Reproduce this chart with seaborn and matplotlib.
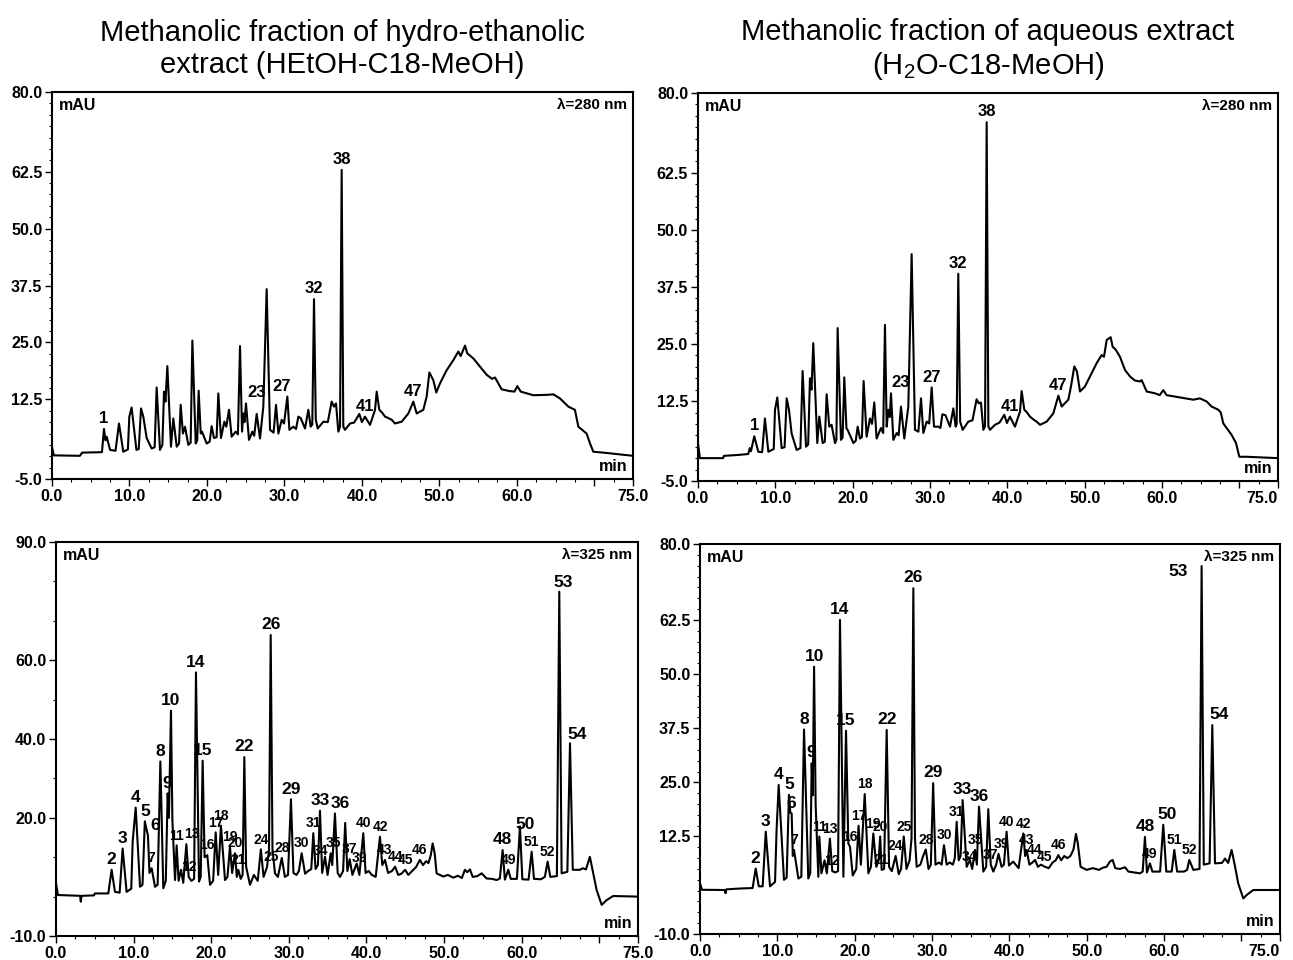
import numpy as np
import matplotlib
matplotlib.use("Agg")
import matplotlib.pyplot as plt
from matplotlib.ticker import MultipleLocator
import seaborn as sns

# HPLC-DAD chromatograms of the methanolic C18 fractions, 280 nm (top) and 325 nm (bottom).
# Trace vertices (retention time in min, absorbance in mAU).

# --- top left: HEtOH-C18-MeOH, 280 nm ---
tl_time = [0.0, 0.25, 3.6, 3.9, 6.45, 6.71, 6.9, 7.06, 7.5, 8.2,
           8.65, 9.2, 9.8, 9.98, 10.28, 10.9, 11.2, 11.49, 11.79, 12.22,
           12.87, 13.25, 13.51, 13.94, 14.25, 14.46, 14.65, 14.89, 15.36, 15.66,
           16.1, 16.4, 16.61, 16.9, 17.17, 17.6, 17.9, 18.12, 18.55, 18.75,
           18.93, 19.2, 19.36, 19.97, 20.35, 20.61, 20.91, 21.25, 21.47, 21.81,
           22.25, 22.5, 22.85, 23.19, 23.71, 24.0, 24.27, 24.53, 24.7, 24.85,
           25.04, 25.43, 25.86, 26.1, 26.42, 26.85, 27.28, 27.71, 28.14, 28.6,
           28.92, 29.22, 29.65, 29.95, 30.38, 30.64, 31.15, 31.5, 31.8, 32.1,
           32.66, 33.09, 33.39, 33.6, 33.82, 34.05, 34.3, 35.03, 35.6, 36.1,
           36.4, 36.66, 36.96, 37.18, 37.39, 37.6, 37.82, 38.47, 39.0, 39.67,
           40.0, 40.4, 41.05, 41.7, 41.91, 42.25, 42.6, 43.0, 43.4, 43.85,
           44.28, 45.14, 46.0, 46.64, 47.07, 47.93, 48.36, 48.71, 49.22, 49.6,
           50.08, 50.94, 51.8, 52.45, 52.75, 53.31, 53.6, 54.38, 55.24, 56.1,
           56.8, 57.18, 58.04, 59.12, 59.7, 60.06, 60.5, 62.13, 64.0, 64.71,
           65.57, 66.65, 67.5, 67.94, 69.0, 69.45, 69.87, 71.17, 75.0]
tl_mau = [2.0, 0.2, 0.1, 0.8, 0.9, 6.0, 3.5, 4.3, 1.4, 1.2,
          7.2, 1.0, 1.5, 8.7, 10.7, 1.4, 1.6, 10.5, 8.7, 4.0,
          1.7, 2.0, 15.1, 1.4, 2.5, 14.2, 12.0, 19.8, 2.1, 8.3,
          2.1, 2.8, 11.3, 5.0, 6.5, 2.5, 3.0, 25.4, 2.8, 3.5,
          14.4, 5.0, 5.4, 2.8, 3.2, 6.6, 4.0, 4.2, 13.8, 4.0,
          7.6, 6.5, 10.2, 4.3, 5.4, 4.8, 24.2, 5.4, 9.4, 7.5,
          11.6, 3.6, 5.4, 4.5, 9.3, 3.9, 10.9, 36.7, 5.8, 5.2,
          11.3, 5.0, 8.0, 7.2, 13.1, 5.8, 6.5, 6.0, 8.7, 8.4,
          6.1, 10.2, 6.5, 7.0, 34.5, 8.0, 6.1, 7.6, 7.5, 12.0,
          10.9, 11.6, 5.4, 6.5, 62.9, 6.5, 5.8, 7.2, 7.4, 9.3,
          7.5, 8.7, 6.9, 10.2, 14.2, 10.2, 9.6, 8.7, 8.4, 8.0,
          7.2, 7.6, 9.4, 12.0, 9.4, 10.2, 13.1, 18.4, 16.7, 14.0,
          16.0, 18.9, 21.1, 23.0, 22.0, 24.3, 22.6, 21.5, 19.7, 17.9,
          17.0, 17.3, 14.7, 14.3, 14.2, 15.4, 14.2, 13.4, 13.5, 13.6,
          12.7, 10.9, 10.2, 6.5, 5.0, 2.8, 1.0, 0.8, 0.1]
tl_peak_ids = ["1", "23", "27", "32", "38", "41", "47"]
tl_peak_time = [6.71, 26.42, 30.38, 33.82, 37.39, 40.4, 46.64]

# --- top right: H2O-C18-MeOH, 280 nm ---
tr_time = [0.0, 0.25, 3.25, 3.35, 5.2, 6.5, 6.7, 6.85, 7.28, 7.8,
           8.3, 8.66, 9.1, 9.8, 9.96, 10.26, 10.82, 11.2, 11.47, 11.77,
           12.11, 12.76, 13.25, 13.53, 13.97, 14.25, 14.48, 14.68, 14.91, 15.43,
           15.69, 16.12, 16.4, 16.64, 16.98, 17.28, 17.72, 17.9, 18.06, 18.49,
           18.7, 18.92, 19.2, 19.35, 20.1, 20.4, 20.65, 20.95, 21.2, 21.42,
           21.81, 22.24, 22.5, 22.8, 23.1, 23.66, 23.95, 24.18, 24.4, 24.61,
           24.8, 24.96, 25.26, 25.69, 25.95, 26.25, 26.68, 27.2, 27.63, 28.06,
           28.5, 28.84, 29.14, 29.57, 29.9, 30.22, 30.52, 31.08, 31.35, 31.6,
           32.0, 32.59, 33.02, 33.32, 33.45, 33.66, 33.9, 34.23, 34.96, 35.5,
           36.03, 36.3, 36.59, 36.9, 37.12, 37.33, 37.55, 37.76, 38.4, 39.0,
           39.61, 39.95, 40.34, 40.99, 41.64, 41.85, 42.2, 42.55, 42.93, 43.35,
           43.79, 44.23, 45.09, 45.95, 46.6, 47.03, 47.89, 48.23, 48.66, 49.0,
           49.4, 50.04, 50.9, 51.55, 52.2, 52.5, 52.85, 53.36, 53.62, 54.0,
           54.57, 55.22, 55.86, 56.5, 57.16, 57.37, 58.02, 59.1, 59.7, 60.17,
           60.6, 62.33, 64.05, 64.9, 65.78, 66.42, 67.28, 67.6, 67.93, 69.0,
           69.57, 70.0, 70.95, 75.0]
tr_mau = [3.3, 0.0, 0.0, 0.5, 0.7, 0.9, 2.2, 1.5, 4.8, 1.4,
          1.3, 8.7, 1.4, 2.0, 10.6, 13.3, 2.2, 2.4, 13.1, 10.6,
          5.4, 1.8, 2.2, 19.1, 2.5, 3.0, 17.5, 15.0, 25.2, 3.3,
          9.1, 3.3, 3.6, 14.0, 6.9, 7.3, 3.3, 4.0, 28.5, 4.0,
          4.5, 17.7, 6.5, 6.2, 3.3, 3.8, 6.9, 4.3, 4.6, 16.9,
          4.7, 8.7, 7.5, 12.2, 4.3, 6.6, 5.5, 29.2, 6.9, 10.6,
          9.0, 14.2, 4.0, 5.5, 5.0, 11.3, 4.3, 11.3, 44.7, 6.2,
          5.8, 13.1, 5.5, 8.0, 7.6, 15.5, 6.9, 6.9, 6.6, 9.6,
          9.4, 6.9, 10.9, 6.9, 7.5, 40.4, 8.0, 6.2, 8.0, 8.3,
          12.9, 12.0, 12.2, 6.2, 7.0, 73.6, 7.0, 6.2, 7.3, 7.8,
          9.5, 7.7, 9.1, 6.9, 10.2, 14.7, 10.6, 10.0, 9.1, 8.5,
          8.0, 7.3, 8.0, 9.8, 13.7, 11.3, 12.8, 15.7, 20.1, 19.0,
          14.6, 15.7, 18.6, 20.8, 22.6, 22.2, 25.9, 26.5, 24.4, 23.8,
          22.2, 19.3, 17.9, 17.0, 16.8, 17.1, 14.6, 14.2, 13.8, 14.9,
          13.8, 13.3, 12.8, 13.1, 12.4, 11.3, 10.6, 10.0, 7.6, 5.1,
          3.3, 0.3, 0.3, 0.0]
tr_peak_ids = ["1", "23", "27", "32", "38", "41", "47"]
tr_peak_time = [7.28, 26.25, 30.22, 33.66, 37.33, 40.34, 46.6]

# --- bottom left: HEtOH-C18-MeOH, 325 nm ---
bl_time = [0.0, 0.25, 3.1, 3.2, 3.3, 4.9, 5.0, 6.74, 7.17, 7.6,
           8.2, 8.59, 9.1, 9.7, 9.88, 10.27, 10.83, 11.15, 11.45, 11.62,
           11.85, 12.05, 12.33, 12.76, 13.1, 13.45, 13.83, 14.15, 14.39, 14.55,
           14.82, 15.0, 15.34, 15.55, 15.8, 16.11, 16.4, 16.8, 17.1, 17.45,
           17.8, 18.04, 18.43, 18.65, 18.9, 19.15, 19.5, 19.85, 20.25, 20.58,
           20.9, 21.26, 21.78, 22.1, 22.42, 22.7, 23.07, 23.3, 23.5, 23.8,
           24.05, 24.27, 24.5, 25.0, 25.5, 26.0, 26.4, 26.75, 27.2, 27.45,
           27.67, 27.9, 28.22, 28.6, 29.1, 29.5, 29.9, 30.28, 30.6, 31.0,
           31.3, 31.66, 32.1, 32.5, 32.9, 33.16, 33.45, 33.75, 34.02, 34.3,
           34.67, 35.0, 35.4, 35.6, 35.95, 36.3, 36.6, 37.0, 37.27, 37.55,
           37.85, 38.2, 38.75, 39.1, 39.6, 39.9, 40.3, 40.7, 41.2, 41.75,
           42.05, 42.4, 42.8, 43.3, 43.7, 44.1, 44.5, 45.0, 45.4, 45.9,
           46.4, 46.9, 47.3, 47.7, 48.0, 48.3, 48.54, 48.8, 49.05, 49.9,
           50.5, 51.2, 51.8, 52.3, 52.7, 53.0, 53.35, 53.7, 54.3, 54.85,
           55.5, 56.2, 56.8, 57.2, 57.56, 57.85, 58.29, 58.6, 59.4, 59.79,
           60.1, 60.9, 61.3, 61.6, 62.5, 63.0, 63.36, 63.7, 64.55, 64.86,
           65.16, 65.9, 66.24, 66.6, 67.5, 67.9, 68.3, 68.8, 69.24, 69.67,
           70.32, 70.96, 71.8, 75.0]
bl_mau = [3.4, 0.4, 0.2, -1.3, 0.2, 0.3, 0.8, 0.8, 6.8, 1.2,
          1.0, 12.2, 1.2, 2.0, 13.9, 22.6, 2.5, 3.0, 19.1, 17.5,
          15.5, 6.0, 7.2, 2.5, 3.0, 34.3, 2.1, 4.0, 26.2, 20.0,
          47.2, 19.4, 4.2, 13.0, 4.0, 6.8, 3.5, 13.3, 5.0, 4.0,
          4.5, 56.9, 3.8, 5.0, 34.5, 10.0, 10.5, 3.0, 4.0, 16.3,
          5.5, 18.0, 4.2, 5.0, 12.7, 6.0, 11.0, 5.0, 6.8, 4.5,
          5.5, 35.4, 7.6, 3.0, 5.5, 4.0, 12.0, 5.0, 7.5, 12.0,
          66.4, 12.0, 5.9, 5.0, 9.8, 5.0, 5.5, 24.7, 6.0, 5.5,
          6.5, 11.0, 5.8, 6.5, 7.0, 16.1, 7.0, 8.0, 21.8, 6.0,
          10.1, 5.5, 11.0, 8.0, 21.1, 6.0, 5.0, 6.5, 18.7, 6.5,
          9.5, 5.5, 8.4, 5.5, 16.1, 6.0, 6.5, 5.5, 5.0, 15.2,
          8.0, 9.3, 6.0, 6.5, 7.6, 5.5, 5.8, 6.8, 5.5, 6.5,
          7.5, 9.3, 8.0, 9.0, 8.5, 10.5, 13.5, 11.0, 5.9, 5.1,
          5.5, 4.8, 5.3, 4.7, 6.8, 6.2, 6.9, 5.0, 5.2, 5.9,
          4.6, 4.5, 4.2, 4.6, 11.8, 4.3, 6.8, 4.5, 4.5, 17.8,
          4.4, 4.3, 11.4, 4.5, 4.4, 5.0, 8.9, 5.0, 5.2, 77.4,
          5.9, 6.3, 38.9, 6.8, 6.8, 7.2, 6.9, 10.1, 5.9, 1.7,
          -2.1, -0.9, 0.15, 0.0]
bl_peak_ids = ["2", "3", "4", "5", "6", "7", "8", "9", "10", "11", "12", "13",
               "14", "15", "16", "17", "18", "19", "20", "21", "22", "24", "25",
               "26", "28", "29", "30", "31", "33", "34", "35", "36", "37", "39",
               "40", "42", "43", "44", "45", "46", "48", "49", "50", "51", "52",
               "53", "54"]
bl_peak_time = [7.17, 8.59, 10.27, 11.45, 11.85, 12.33, 13.45, 14.39, 14.82, 15.55, 17.1, 16.8,
                18.04, 18.9, 19.5, 20.58, 21.26, 22.42, 23.07, 23.5, 24.27, 26.4, 27.2,
                27.67, 29.1, 30.28, 31.66, 33.16, 34.02, 34.67, 35.4, 35.95, 37.85, 38.75,
                39.6, 41.75, 42.4, 43.7, 45.0, 46.9, 57.56, 58.29, 59.79, 61.3, 63.36,
                64.86, 66.24]

# --- bottom right: H2O-C18-MeOH, 325 nm ---
br_time = [0.0, 0.25, 3.2, 3.3, 3.4, 5.2, 6.8, 7.2, 7.6, 8.1,
           8.5, 9.05, 9.7, 9.9, 10.17, 10.86, 11.2, 11.5, 11.68, 11.85,
           12.0, 12.15, 12.72, 13.1, 13.45, 14.0, 14.25, 14.44, 14.58, 14.75,
           14.95, 15.3, 15.43, 15.7, 16.1, 16.4, 16.8, 17.1, 17.5, 17.85,
           18.1, 18.54, 18.88, 19.18, 19.4, 19.75, 20.2, 20.5, 20.8, 21.3,
           21.77, 22.1, 22.41, 22.8, 23.1, 23.3, 23.49, 23.8, 24.14, 24.45,
           24.8, 25.3, 25.7, 26.0, 26.35, 26.7, 27.1, 27.35, 27.59, 27.8,
           28.02, 28.5, 28.85, 29.2, 29.55, 29.85, 30.15, 30.45, 30.9, 31.25,
           31.55, 31.9, 32.3, 32.7, 32.95, 33.19, 33.45, 33.7, 33.96, 34.48,
           34.9, 35.2, 35.56, 35.8, 36.08, 36.64, 37.0, 37.28, 37.6, 37.93,
           38.3, 38.6, 39.0, 39.3, 39.65, 39.95, 40.5, 41.2, 41.81, 42.05,
           42.24, 42.6, 43.0, 43.32, 43.7, 44.1, 44.6, 45.1, 45.6, 46.0,
           46.34, 46.7, 47.1, 47.5, 47.9, 48.3, 48.62, 48.85, 49.22, 50.0,
           50.8, 51.6, 52.1, 52.58, 53.0, 53.36, 53.7, 54.3, 54.96, 55.4,
           56.2, 56.9, 57.25, 57.54, 57.8, 58.19, 58.5, 59.5, 59.91, 60.3,
           61.0, 61.34, 61.7, 62.6, 63.0, 63.27, 63.8, 64.6, 64.87, 65.15,
           65.9, 66.25, 66.6, 67.5, 67.9, 68.3, 68.75, 69.2, 69.6, 70.26,
           70.7, 71.55, 75.0]
br_mau = [1.7, 0.2, 0.15, -0.6, 0.3, 0.5, 0.6, 5.1, 1.0, 1.0,
          13.6, 1.0, 2.0, 14.0, 24.4, 2.5, 3.0, 22.1, 18.0, 17.8,
          8.0, 9.4, 2.8, 3.2, 37.2, 2.8, 4.0, 29.4, 22.0, 51.7,
          20.0, 3.2, 12.5, 4.0, 7.0, 4.0, 12.0, 4.5, 4.2, 4.5,
          62.5, 3.2, 36.9, 10.9, 10.1, 3.5, 5.0, 15.0, 6.0, 22.3,
          4.0, 5.5, 13.2, 5.5, 7.0, 12.5, 4.8, 5.0, 37.1, 5.5,
          4.5, 8.0, 3.8, 5.0, 12.5, 5.0, 7.0, 12.0, 69.8, 12.0,
          5.5, 6.0, 8.0, 9.5, 5.0, 6.0, 24.8, 6.0, 6.5, 6.0,
          10.5, 6.0, 6.5, 6.0, 7.5, 15.9, 7.0, 8.0, 20.9, 5.5,
          7.1, 5.0, 9.4, 6.0, 19.4, 4.4, 5.5, 18.8, 6.0, 4.4,
          6.0, 8.5, 5.5, 6.0, 13.6, 5.8, 6.7, 5.2, 13.2, 8.0,
          9.4, 6.0, 6.5, 7.1, 5.5, 6.0, 5.5, 5.2, 6.5, 7.0,
          8.2, 7.0, 8.0, 7.5, 8.0, 9.5, 13.1, 11.0, 5.5, 4.8,
          5.2, 4.8, 5.3, 5.5, 6.7, 7.1, 5.2, 5.0, 5.4, 4.4,
          4.2, 4.0, 4.4, 12.4, 4.2, 6.3, 4.4, 4.4, 15.2, 4.4,
          4.4, 9.4, 4.4, 4.4, 4.8, 7.1, 4.8, 5.0, 74.9, 6.0,
          6.3, 38.2, 6.3, 6.4, 7.4, 6.4, 9.4, 5.5, 1.7, -1.8,
          -1.0, 0.15, 0.15]
br_peak_ids = ["2", "3", "4", "5", "6", "7", "8", "9", "10", "11", "12", "13",
               "14", "15", "16", "17", "18", "19", "20", "21", "22", "24", "25",
               "26", "28", "29", "30", "31", "33", "34", "35", "36", "37", "39",
               "40", "42", "43", "44", "45", "46", "48", "49", "50", "51", "52",
               "53", "54"]
br_peak_time = [7.2, 8.5, 10.17, 11.5, 11.85, 12.15, 13.45, 14.44, 14.75, 15.43, 17.1, 16.8,
                18.1, 18.88, 19.4, 20.5, 21.3, 22.41, 23.3, 23.49, 24.14, 25.3, 26.35,
                27.59, 29.2, 30.15, 31.55, 33.19, 33.96, 34.9, 35.56, 36.08, 37.6, 38.6,
                39.65, 41.81, 42.24, 43.32, 44.6, 46.34, 57.54, 58.19, 59.91, 61.34, 63.27,
                64.87, 66.25]

top_yticks = [-5.0, 12.5, 25.0, 37.5, 50.0, 62.5, 80.0]
bl_yticks = [-10.0, 20.0, 40.0, 60.0, 90.0]
br_yticks = [-10.0, 12.5, 25.0, 37.5, 50.0, 62.5, 80.0]
xticks = [0, 10, 20, 30, 40, 50, 60, 70, 75]
xtick_labels = ["0.0", "10.0", "20.0", "30.0", "40.0", "50.0", "60.0", "", "75.0"]

titles = ["Methanolic fraction of hydro-ethanolic\nextract (HEtOH-C18-MeOH)",
          "Methanolic fraction of aqueous extract\n(H$\\mathregular{_2}$O-C18-MeOH)"]

sns.set_theme(style="ticks", rc={"text.color": "black", "axes.labelcolor": "black",
                                 "xtick.color": "black", "ytick.color": "black",
                                 "axes.edgecolor": "black"})
plt.rcParams["font.family"] = ["Liberation Sans", "DejaVu Sans"]
plt.rcParams["mathtext.fontset"] = "custom"
plt.rcParams["mathtext.rm"] = "Liberation Sans"

fig = plt.figure(figsize=(12.93, 9.6), dpi=100)
ax_tl = fig.add_axes([0.0402, 0.501, 0.4494, 0.4032])
ax_tr = fig.add_axes([0.5398, 0.499, 0.4486, 0.4041])
ax_bl = fig.add_axes([0.0433, 0.025, 0.4501, 0.4104])
ax_br = fig.add_axes([0.5414, 0.0271, 0.4485, 0.4062])

# labels drawn smaller where the peaks are crowded
big = {"2", "3", "4", "5", "6", "8", "9", "10", "14", "15", "22", "26", "29",
       "33", "36", "48", "50", "53", "54"}

panels = [
    (ax_tl, tl_time, tl_mau, tl_peak_ids, tl_peak_time, (-5, 80), top_yticks, 2.5,
     "\u03bb=280 nm", {"23": (0, 8), "27": (-4, 0)}),
    (ax_tr, tr_time, tr_mau, tr_peak_ids, tr_peak_time, (-5, 80), top_yticks, 2.5,
     "\u03bb=280 nm", {"23": (0, 10)}),
    (ax_bl, bl_time, bl_mau, bl_peak_ids, bl_peak_time, (-10, 90), bl_yticks, 10,
     "\u03bb=325 nm", {"6": (5, 0), "13": (4, 0), "25": (3, 0), "36": (4, 0),
                      "34": (-3, -3), "35": (2, 0), "39": (2, -3),
                      "50": (4, -6), "53": (3, -1), "54": (5, -1)}),
    (ax_br, br_time, br_mau, br_peak_ids, br_peak_time, (-10, 80), br_yticks, 2.5,
     "\u03bb=325 nm", {"53": (-17, -11), "54": (5, 0), "50": (3, 0),
                      "34": (0, -5), "39": (2, 0)}),
]

for ax, t, y, ids, pt, ylim, yt, yminor, lam, nudge in panels:
    sns.lineplot(x=t, y=y, ax=ax, color="black", linewidth=1.5,
                 estimator=None, sort=False)
    ax.set_xlim(0, 75)
    ax.set_ylim(*ylim)
    ax.set_xticks(xticks)
    ax.set_xticklabels(xtick_labels)
    ax.set_yticks(yt)
    ax.set_yticklabels([f"{v:.1f}" for v in yt])
    ax.xaxis.set_minor_locator(MultipleLocator(2.5))
    ax.yaxis.set_minor_locator(MultipleLocator(yminor))
    ax.tick_params(which="major", direction="out", length=5, width=1.0,
                   color="black", labelsize=11.5, labelcolor="black", pad=2)
    ax.tick_params(which="minor", direction="out", length=2.5, width=0.8, color="black")
    for lab in ax.get_xticklabels() + ax.get_yticklabels():
        lab.set_fontweight("bold")
    for sp in ax.spines.values():
        sp.set_visible(True)
        sp.set_linewidth(1.5)
        sp.set_color("black")
    ax.set_xlabel("")
    ax.set_ylabel("")

    ax.text(0.012, 0.985, "mAU", transform=ax.transAxes, ha="left", va="top",
            fontsize=11.5, fontweight="bold", color="black")
    ax.text(0.99, 0.985, lam, transform=ax.transAxes, ha="right", va="top",
            fontsize=11, fontweight="bold", color="black")
    ax.text(0.99, 0.012, "min", transform=ax.transAxes, ha="right", va="bottom",
            fontsize=11.5, fontweight="bold", color="black")

    top = ax in (ax_tl, ax_tr)
    for pid, ptime in zip(ids, pt):
        apex = np.interp(ptime, t, y)
        dx, dy = nudge.get(pid, (0, 0))
        if top:
            size = 12
        else:
            size = 12.5 if pid in big else 10
        ax.annotate(pid, (ptime, apex), xytext=(dx, dy + 2), textcoords="offset points",
                    ha="center", va="bottom", fontsize=size, fontweight="bold",
                    color="black")

# keep the last x label inside the figure on the right-hand panels
for ax in (ax_tr, ax_br):
    ax.get_xticklabels()[-1].set_horizontalalignment("right")
    ax.get_xticklabels()[-1].set_x(75)

ax_tl.set_title(titles[0], fontsize=21, fontweight="normal", pad=14, linespacing=1.15,
                color="black")
ax_tr.set_title(titles[1], fontsize=21, fontweight="normal", pad=14, linespacing=1.15,
                color="black")

fig.savefig("out.png", dpi=100)
